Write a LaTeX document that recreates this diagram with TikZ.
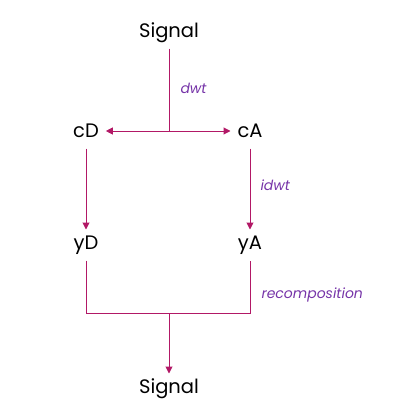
\documentclass[tikz,border=0pt]{standalone}
\usepackage{fontspec}
\setmainfont{Poppins}
\usetikzlibrary{arrows.meta,positioning}
\definecolor{wireline}{RGB}{178,24,102}
\definecolor{steplabel}{RGB}{118,52,168}

\begin{document}
\begin{tikzpicture}[x=1pt,y=-1pt,
    sig/.style={inner sep=1pt, outer sep=6pt, font=\fontsize{19.5}{22}\selectfont,
                text height=13pt, text depth=4pt},
    wire/.style={draw=wireline, line width=1pt},
    arr/.style={wire, -{Triangle[width=7pt,length=7pt]}},
    steplbl/.style={text=steplabel, font=\fontsize{14}{16}\selectfont\itshape, anchor=west}
]
    \useasboundingbox (0,0) rectangle (414,415);
    % blocks
    \node[sig] (sigin) at (169,33) {Signal};
    \node[sig] (cD) at (86,133) {cD};
    \node[sig] (cA) at (250,133) {cA};
    \node[sig] (yD) at (86,245) {yD};
    \node[sig] (yA) at (250,245) {yA};
    \node[sig] (sigout) at (169,389) {Signal};
    \coordinate (split) at (169,131);
    \coordinate (joinD) at (86,313);
    \coordinate (joinA) at (250,313);
    \coordinate (join) at (169,313);
    % connectors
    \draw[wire] (sigin) -- (split);
    \draw[arr] (split) -- (cD.east |- split);
    \draw[arr] (split) -- (cA.west |- split);
    \draw[arr] (cD) -- (yD);
    \draw[arr] (cA) -- (yA);
    \draw[wire] (yD) -- (joinD) -- (joinA) -- (yA);
    \draw[arr] (join) -- (sigout);
    % labels
    \node[steplbl] (ldwt) at (177,88) {dwt};
    \node[steplbl] (lidwt) at (257,185) {idwt};
    \node[steplbl] (lrec) at (258,295) {recomposition};
\end{tikzpicture}
\end{document}
